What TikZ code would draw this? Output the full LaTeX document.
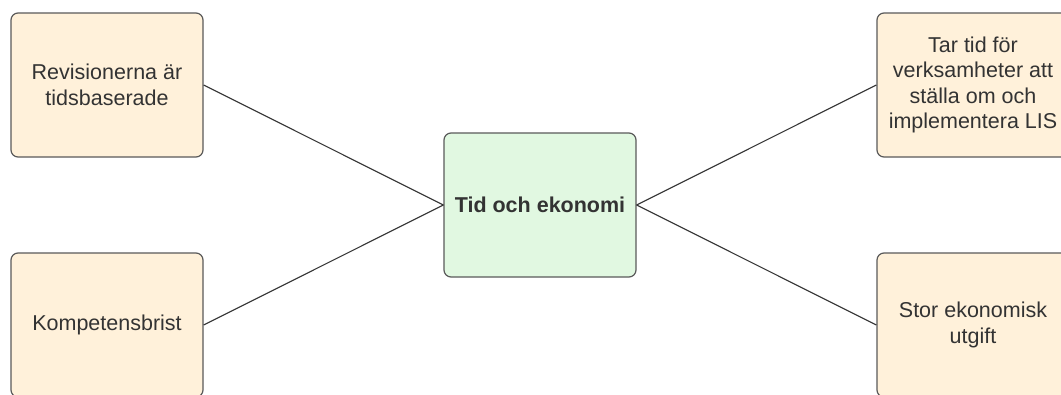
\documentclass[tikz,border=0pt]{standalone}
\usepackage{fontspec}
\setmainfont{Liberation Sans}
\begin{document}
\definecolor{boxline}{HTML}{5A5A5A}
\definecolor{txt}{HTML}{333333}
\definecolor{sandfill}{HTML}{FFF1DA}
\definecolor{mintfill}{HTML}{E1F8E1}
\tikzset{
  card/.style={draw=boxline, line width=1.2pt, rounded corners=7pt,
    minimum width=192pt, minimum height=144pt, align=center,
    text=txt, font=\fontsize{21.5}{25.5}\selectfont, inner sep=4pt},
  topic/.style={card, fill=sandfill},
  hub/.style={card, fill=mintfill, font=\fontsize{21.5}{25.5}\selectfont\bfseries},
  link/.style={draw=txt, line width=1.1pt}
}
\begin{tikzpicture}[x=1pt, y=-1pt]
  \useasboundingbox[fill=white] (0,0) rectangle (1061,394);
  % central theme
  \node[hub] (hub) at (540,205) {Tid och ekonomi};
  % surrounding factors
  \node[topic] (rev) at (107,85) {Revisionerna är\\tidsbaserade};
  \node[topic] (komp) at (107,325) {Kompetensbrist};
  \node[topic] (tar) at (973,85) {Tar tid för\\verksamheter att\\ställa om och\\implementera LIS};
  \node[topic] (stor) at (973,325) {Stor ekonomisk\\utgift};
  % connectors
  \draw[link] (rev.east) -- (hub.west);
  \draw[link] (komp.east) -- (hub.west);
  \draw[link] (tar.west) -- (hub.east);
  \draw[link] (stor.west) -- (hub.east);
\end{tikzpicture}
\end{document}
